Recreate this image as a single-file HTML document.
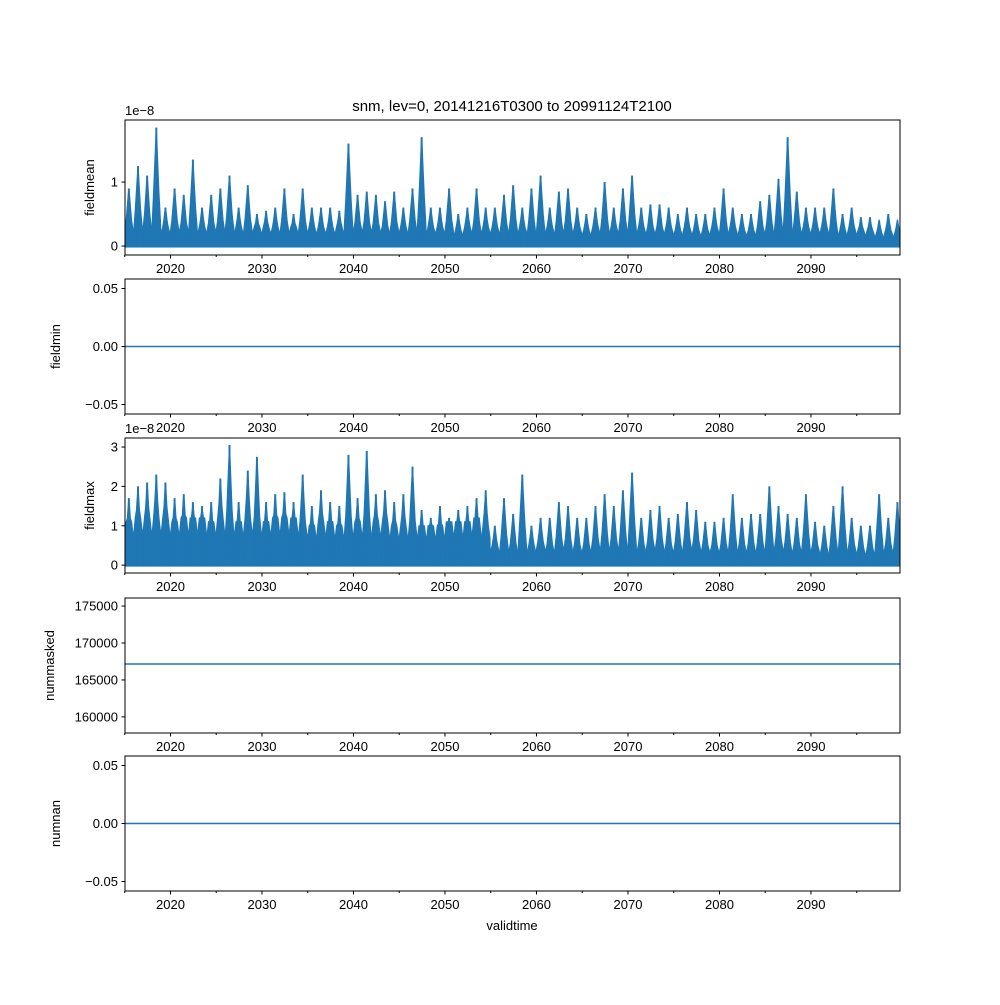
<!DOCTYPE html>
<html><head><meta charset="utf-8"><style>
body{margin:0;background:#fff}
svg{font-family:"Liberation Sans","DejaVu Sans",sans-serif}
</style></head><body>
<svg id="fig" width="1000" height="1000" viewBox="0 0 1000 1000"></svg>
<script>
const years=[];for(let y=2015;y<=2099;y++)years.push(y);
const meanPeaks=[0.9,1.25,1.1,1.85,0.6,0.9,0.8,1.35,0.6,0.8,0.9,1.1,0.6,0.95,0.5,0.55,0.6,0.9,0.5,0.9,0.6,0.6,0.6,0.55,1.6,0.8,0.85,0.8,0.7,0.85,0.6,0.9,1.7,0.6,0.6,0.9,0.5,0.6,0.9,0.6,0.6,0.8,0.95,0.6,0.9,1.1,0.6,0.85,0.9,0.6,0.5,0.6,1.0,0.6,0.9,1.1,0.6,0.65,0.65,0.6,0.5,0.6,0.5,0.5,0.6,0.9,0.6,0.5,0.5,0.7,0.8,1.05,1.7,0.85,0.6,0.6,0.6,0.9,0.5,0.6,0.45,0.45,0.4,0.5,0.4];
const meanBulk=[0.35,0.4,0.4,0.4,0.3,0.35,0.35,0.4,0.3,0.35,0.35,0.4,0.3,0.35,0.3,0.3,0.3,0.35,0.3,0.35,0.3,0.3,0.3,0.3,0.35,0.35,0.35,0.35,0.3,0.35,0.3,0.35,0.35,0.3,0.3,0.35,0.25,0.3,0.35,0.3,0.3,0.3,0.35,0.3,0.3,0.35,0.3,0.3,0.35,0.3,0.25,0.3,0.35,0.3,0.35,0.35,0.3,0.3,0.3,0.3,0.25,0.3,0.25,0.25,0.3,0.3,0.3,0.25,0.25,0.3,0.3,0.35,0.35,0.3,0.3,0.3,0.3,0.3,0.25,0.3,0.25,0.25,0.2,0.25,0.2];
const maxPeaks=[1.7,2.0,2.1,2.3,2.1,1.7,1.8,1.6,1.5,1.6,2.2,3.05,1.6,2.4,2.75,1.6,1.8,1.85,1.6,2.3,1.5,1.9,1.6,1.5,2.8,1.7,2.9,1.8,1.9,1.6,1.8,2.5,1.4,1.2,1.5,1.2,1.4,1.5,1.7,1.9,1.0,1.7,1.3,2.3,1.0,1.2,1.2,1.6,1.5,1.2,1.2,1.5,1.8,1.5,1.9,2.35,1.2,1.4,1.5,1.2,1.3,1.6,1.4,1.1,1.1,1.2,1.8,1.2,1.3,1.3,2.0,1.5,1.3,1.2,1.8,1.1,1.0,1.5,2.0,1.2,1.0,1.0,1.8,1.2,1.6];
const maxBulk=[1.1,1.2,1.2,1.2,1.2,1.1,1.2,1.2,1.2,1.1,1.2,1.2,1.1,1.2,1.2,1.1,1.2,1.2,1.2,1.1,1.0,1.1,1.1,1.0,1.1,1.1,1.1,1.1,1.1,1.0,1.0,1.1,1.0,1.0,1.0,1.1,1.1,1.1,1.2,1.0,0.5,0.6,0.5,0.6,0.5,0.6,0.5,0.6,0.6,0.5,0.5,0.6,0.6,0.6,0.6,0.7,0.5,0.6,0.6,0.5,0.5,0.6,0.6,0.5,0.5,0.5,0.6,0.5,0.5,0.5,0.6,0.6,0.5,0.5,0.6,0.5,0.4,0.5,0.6,0.5,0.4,0.4,0.5,0.5,0.5];
const nummaskedValue=167150;
const fieldminValue=0, numnanValue=0;
const xTicks=[2020,2030,2040,2050,2060,2070,2080,2090];
const xMinor=[2015,2025,2035,2045,2055,2065,2075,2085,2095];

const NS="http://www.w3.org/2000/svg";
const svg=document.getElementById('fig');
const L=125,R=900,X0=2015.03,X1=2099.73;
const C='#1f77b4';
function x(v){return L+(v-X0)/(X1-X0)*(R-L);}
function mk(tag,attrs,parent){const e=document.createElementNS(NS,tag);for(const k in attrs)e.setAttribute(k,attrs[k]);(parent||svg).appendChild(e);return e;}
function txt(s,attrs,parent){const e=mk('text',attrs,parent);e.textContent=s;return e;}

const panels=[
 {name:'fieldmean',top:120,lo:-0.14,hi:1.97,ticks:[0,1],labs:['0','1'],off:'1e\u22128'},
 {name:'fieldmin',top:279,lo:-0.0582,hi:0.0582,ticks:[-0.05,0,0.05],labs:['\u22120.05','0.00','0.05']},
 {name:'fieldmax',top:438,lo:-0.2,hi:3.23,ticks:[0,1,2,3],labs:['0','1','2','3'],off:'1e\u22128'},
 {name:'nummasked',top:598,lo:157820,hi:176090,ticks:[160000,165000,170000,175000],labs:['160000','165000','170000','175000']},
 {name:'numnan',top:756,lo:-0.0582,hi:0.0582,ticks:[-0.05,0,0.05],labs:['\u22120.05','0.00','0.05']}
];
const H=135;
const shape=[0.2,0.45,0.7,0.9,1,0.9,0.7,0.45,0.2];
const fr=[0,0.15,0.28,0.38,0.45,0.52,0.62,0.75,0.92];
panels.forEach((p,i)=>{
 const g=mk('g',{});
 
 
 const y=v=>p.top+H-(v-p.lo)/(p.hi-p.lo)*H;
 const clip=mk('clipPath',{id:'c'+i},g);mk('rect',{x:L,y:p.top,width:R-L,height:H},clip);
 const dg=mk('g',{'clip-path':'url(#c'+i+')'},g);
 if(p.name==='fieldmean'||p.name==='fieldmax'){
  const pk=p.name==='fieldmean'?meanPeaks:maxPeaks;
  const bk=p.name==='fieldmean'?meanBulk:maxBulk;
  let d='M'+x(X0)+','+y(0);
  years.forEach((yr,j)=>{
   fr.forEach((f,k)=>{
    const v=Math.max(bk[j]*(k===0||k===8?0.7:1), pk[j]*shape[k]);
    d+=' L'+x(yr+f).toFixed(1)+','+y(v).toFixed(1);
   });
   d+=' L'+x(yr+0.98).toFixed(1)+','+y(0).toFixed(1);
  });
  d+=' L'+x(X1)+','+y(0)+' L'+x(X1)+','+y(p.lo)+' L'+x(X0)+','+y(p.lo)+'Z';
  const fill=mk('path',{d:d,fill:C,stroke:C,'stroke-width':1},dg);
  
  
  mk('rect',{x:L,y:y(0)+1.5,width:R-L,height:p.top+H-y(0)},dg).setAttribute('fill','#fff');
  years.forEach((yr,j)=>{
   const s=mk('line',{x1:x(yr+0.45),x2:x(yr+0.45),y1:y(0),y2:y(pk[j]),stroke:C,'stroke-width':2},dg);
   
   
  });
 } else {
  const v=p.name==='nummasked'?nummaskedValue:(p.name==='fieldmin'?fieldminValue:numnanValue);
  const ln=mk('line',{x1:L,x2:R,y1:y(v),y2:y(v),stroke:C,'stroke-width':1.5},dg);
  
  
 }
 const fr0=mk('rect',{x:L,y:p.top,width:R-L,height:H,fill:'none',stroke:'#000','stroke-width':1},g);
 
 
 p.ticks.forEach((t,k)=>{
  mk('line',{x1:L-3.5,x2:L,y1:y(t),y2:y(t),stroke:'#000'},g);
  const tl=txt(p.labs[k],{x:L-7,y:y(t)+4.5,'font-size':13,'text-anchor':'end'},g);
  
  
 });
 xTicks.forEach(t=>{
  mk('line',{x1:x(t),x2:x(t),y1:p.top+H,y2:p.top+H+3.5,stroke:'#000'},g);
  const tl=txt(String(t),{x:x(t),y:p.top+H+18,'font-size':13,'text-anchor':'middle'},g);
  
  
 });
 xMinor.forEach(t=>mk('line',{x1:x(t),x2:x(t),y1:p.top+H,y2:p.top+H+2,stroke:'#000'},g));
 const yl=txt(p.name,{x:0,y:0,'font-size':13,'text-anchor':'middle',transform:'translate('+(p.name==='nummasked'?54:(p.name==='fieldmean'||p.name==='fieldmax'?94:60))+','+(p.top+H/2)+') rotate(-90)'},g);
 
 
 if(p.off){const o=txt(p.off,{x:L,y:p.top-5,'font-size':13},g);
  
  }
});
const t=txt('snm, lev=0, 20141216T0300 to 20991124T2100',{x:512,y:111,'font-size':15,'text-anchor':'middle'});


const xl=txt('validtime',{x:512,y:930,'font-size':13,'text-anchor':'middle'});


</script>
</body></html>
